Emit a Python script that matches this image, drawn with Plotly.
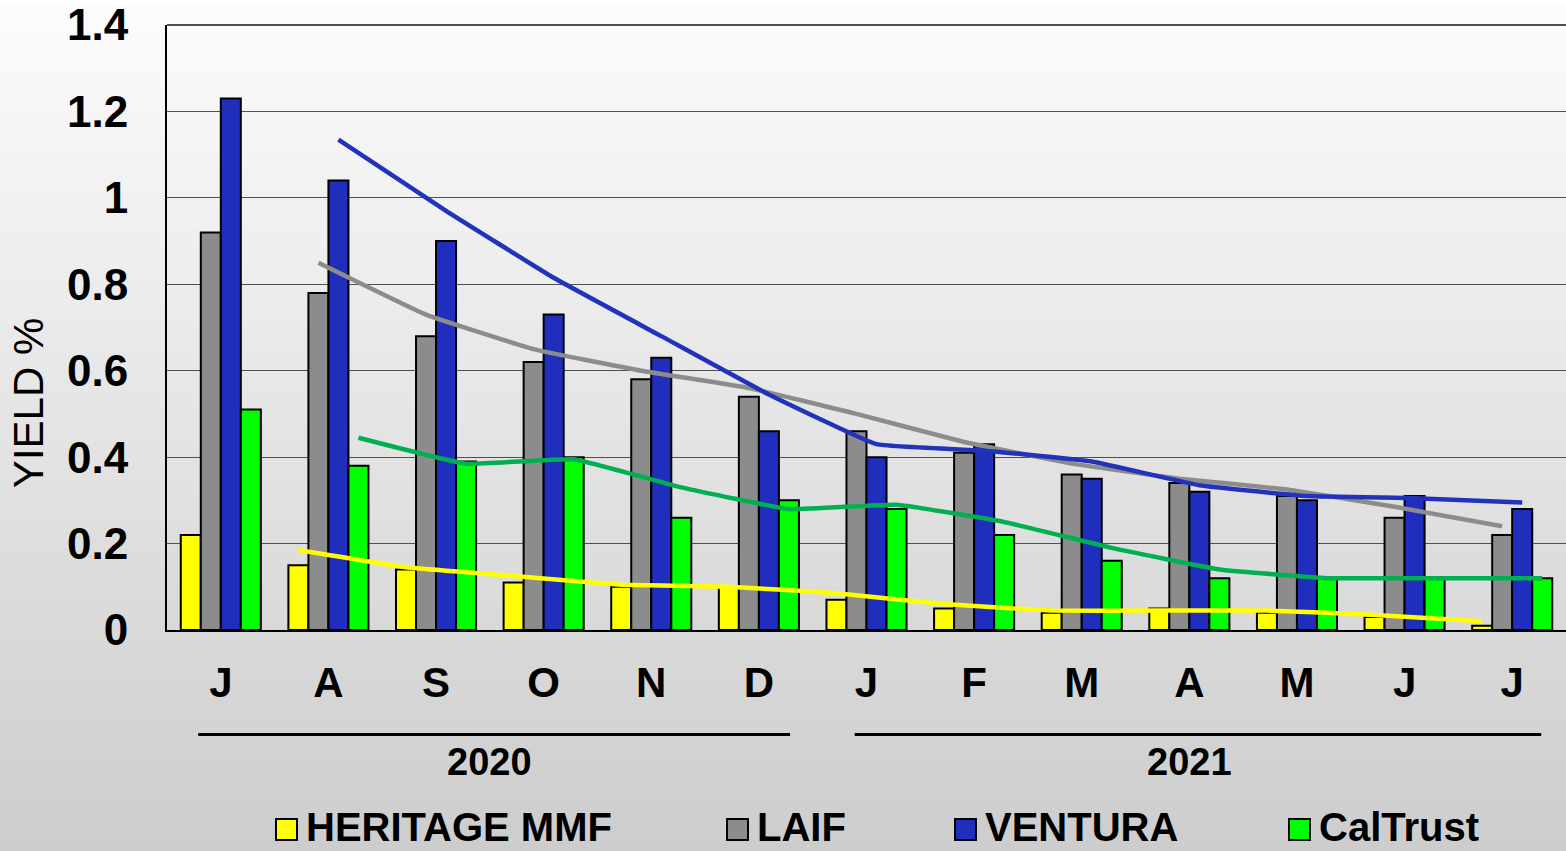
import plotly.graph_objects as go

# ---------------- data ----------------
months = ["J", "A", "S", "O", "N", "D", "J", "F", "M", "A", "M", "J", "J"]
years = ["2020", "2021"]
year_first_idx = [0, 6]
year_last_idx = [5, 12]

series_names = ["HERITAGE MMF", "LAIF", "VENTURA", "CalTrust"]
heritage = [0.22, 0.15, 0.14, 0.11, 0.10, 0.10, 0.07, 0.05, 0.04, 0.05, 0.04, 0.03, 0.01]
laif = [0.92, 0.78, 0.68, 0.62, 0.58, 0.54, 0.46, 0.41, 0.36, 0.34, 0.31, 0.26, 0.22]
ventura = [1.23, 1.04, 0.90, 0.73, 0.63, 0.46, 0.40, 0.43, 0.35, 0.32, 0.30, 0.31, 0.28]
caltrust = [0.51, 0.38, 0.39, 0.40, 0.26, 0.30, 0.28, 0.22, 0.16, 0.12, 0.12, 0.12, 0.12]

# ---------------- style ----------------
bar_colors = ["#FFFF00", "#8C8C8C", "#1F2EBD", "#00FF00"]
line_colors = ["#FFFF00", "#8C8C8C", "#2233BB", "#00B050"]
FONT = "Liberation Sans, Arial, sans-serif"
BARGAP = 0.256

W, H = 1566, 851
ML, MR, MT, MB = 167, 0, 22, 221
PW, PH = W - ML - MR, H - MT - MB


def px_x(p):
    return (p - ML) / PW


def px_y(p):
    return (H - MB - p) / PH


all_series = [heritage, laif, ventura, caltrust]
x_idx = list(range(len(months)))

fig = go.Figure()

# bars
for name, vals, col in zip(series_names, all_series, bar_colors):
    fig.add_trace(go.Bar(
        x=x_idx, y=vals, name=name,
        marker=dict(color=col, line=dict(color="black", width=2)),
        showlegend=False, hoverinfo="x+y+name",
    ))

# 2-period moving average trendlines, positioned over each series' bars
n_series = len(all_series)
bar_w = (1 - BARGAP) / n_series
for k, (name, vals, col) in enumerate(zip(series_names, all_series, line_colors)):
    off = -(1 - BARGAP) / 2 + bar_w * (k + 0.5)
    xs = [i + off for i in x_idx[1:]]
    ys = [(vals[i - 1] + vals[i]) / 2 for i in x_idx[1:]]
    fig.add_trace(go.Scatter(
        x=xs, y=ys, mode="lines", name=name + " (2 per. Mov. Avg.)",
        line=dict(color=col, width=4.5, shape="spline", smoothing=0.3),
        showlegend=False, hoverinfo="skip",
    ))

shapes = []
# background gradient
N = 90
top, bot = 0, H
c_top, c_bot = 252, 205
for i in range(N):
    y0p = top + (bot - top) * i / N
    y1p = top + (bot - top) * (i + 1) / N
    c = round(c_top + (c_bot - c_top) * (i + 0.5) / N)
    shapes.append(dict(type="rect", xref="paper", yref="paper", layer="below",
                       x0=px_x(0), x1=px_x(W), y0=px_y(y1p) - 0.002, y1=px_y(y0p),
                       fillcolor=f"rgb({c},{c},{c})", line=dict(width=0)))

# top border of plot area (gridline at the top of the range)
shapes.append(dict(type="line", xref="paper", yref="paper", layer="below",
                   x0=0, x1=1, y0=1, y1=1, line=dict(color="#505050", width=2)))

# year group lines
line_insets = [(-0.21, 0.29), (-0.11, 0.27)]
for (a, b), (ia, ib) in zip(zip(year_first_idx, year_last_idx), line_insets):
    shapes.append(dict(type="line", xref="x", yref="paper",
                       x0=a + ia, x1=b + ib, y0=px_y(735), y1=px_y(735),
                       line=dict(color="black", width=3)))

annotations = []
for yr, a, b in zip(years, year_first_idx, year_last_idx):
    annotations.append(dict(x=(a + b) / 2, y=px_y(763), xref="x", yref="paper",
                            text=yr, showarrow=False, xanchor="center", yanchor="middle",
                            font=dict(family=FONT, size=38, color="black", weight="bold")))

# y title
annotations.append(dict(x=px_x(28), y=px_y(402), xref="paper", yref="paper",
                        text="YIELD %", textangle=-90, showarrow=False,
                        xanchor="center", yanchor="middle",
                        font=dict(family=FONT, size=42, color="black")))

# manual legend
leg_sq_x = [276, 727, 955, 1289]
leg_y = 830
for name, col, sx in zip(series_names, bar_colors, leg_sq_x):
    shapes.append(dict(type="rect", xref="paper", yref="paper",
                       x0=px_x(sx), x1=px_x(sx + 21), y0=px_y(leg_y + 11), y1=px_y(leg_y - 10),
                       fillcolor=col, line=dict(color="black", width=2)))
    annotations.append(dict(x=px_x(sx + 28), y=px_y(leg_y - 2), xref="paper", yref="paper",
                            text=name, showarrow=False, xanchor="left", yanchor="middle",
                            font=dict(family=FONT, size=40, color="black", weight="bold")))

fig.update_layout(
    width=W, height=H, autosize=False,
    margin=dict(l=ML, r=MR, t=MT, b=MB, pad=0),
    paper_bgcolor="white", plot_bgcolor="rgba(0,0,0,0)",
    barmode="group", bargap=BARGAP, bargroupgap=0,
    showlegend=False,
    shapes=shapes, annotations=annotations,
    font=dict(family=FONT, color="black"),
)
fig.update_xaxes(
    range=[-0.5, len(months) - 0.5], tickmode="array", tickvals=x_idx, ticktext=months,
    showgrid=False, zeroline=False, showline=True, linecolor="black", linewidth=2,
    ticks="", ticklabelstandoff=15,
    tickfont=dict(family=FONT, size=42, color="black", weight="bold"),
)
fig.update_yaxes(
    range=[0, 1.4], dtick=0.2, tick0=0,
    showgrid=True, gridcolor="#505050", gridwidth=1.3,
    zeroline=False, showline=True, linecolor="black", linewidth=2,
    ticks="", ticklabelstandoff=28, ticklabeloverflow="allow",
    tickfont=dict(family=FONT, size=44, color="black", weight="bold"),
)

fig.write_html(
    "out.html",
    config={"displayModeBar": False},
    post_script="document.body.style.margin='0px';document.body.style.overflow='hidden';",
)
